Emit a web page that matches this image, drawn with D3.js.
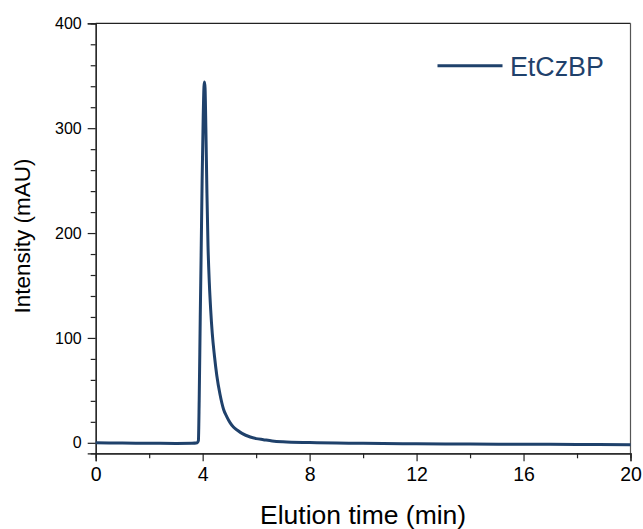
<!DOCTYPE html>
<html>
<head>
<meta charset="utf-8">
<script src="https://cdn.jsdelivr.net/npm/d3@7"></script>
<style>
  body { margin: 0; background: #fff; }
  text { font-family: "Liberation Sans", Arial, sans-serif; }
</style>
</head>
<body>
<svg id="chart" width="643" height="529"></svg>
<script>
// elution trace
var times = [0, 1, 2, 3, 3.6, 3.8, 3.84, 3.87, 3.91, 3.94, 3.98, 4.02, 4.05, 4.07, 4.09, 4.12, 4.16, 4.2,
             4.25, 4.3, 4.36, 4.44, 4.53, 4.65, 4.78, 4.9, 5.03, 5.15, 5.3, 5.47, 5.78, 6.0, 6.27, 6.6, 7, 8,
             10, 12, 14, 16, 18, 20];
var intensity = [0, -0.2, -0.4, -0.6, -0.5, 0, 2, 40, 120, 174, 250, 310, 340, 344, 338, 300, 238, 188,
                 152, 127, 104, 83, 64, 46, 32, 25, 19, 15, 12, 9, 5.5, 4, 3, 1.8, 1, 0.2,
                 -0.5, -1, -1.2, -1.4, -1.5, -1.8];
var xTicks = [0, 4, 8, 12, 16, 20];
var yTicks = [0, 100, 200, 300, 400];
var seriesName = "EtCzBP";

var svg = d3.select("svg#chart");
var lineColor = "#1f416b";

var x = d3.scaleLinear().domain([0, 20]).range([95.7, 630.5]);
var y = d3.scaleLinear().domain([-10, 400]).range([453.3, 23.3]);

//frame (top and right lines)
svg.append("line").attr("x1", x(0)).attr("x2", x(20)).attr("y1", y(400)).attr("y2", y(400))
  .attr("stroke", "#222").attr("stroke-width", 1.2);
svg.append("line").attr("x1", x(20)).attr("x2", x(20)).attr("y1", y(400)).attr("y2", y(-10))
  .attr("stroke", "#555").attr("stroke-width", 1.2);

//x axis, minor then major
var xMinor = svg.append("g").attr("transform", "translate(0," + y(-10) + ")")
  .call(d3.axisBottom(x).tickValues(d3.range(2, 20, 4)).tickSize(5).tickFormat(""));
var xAxis = svg.append("g").attr("transform", "translate(0," + y(-10) + ")")
  .call(d3.axisBottom(x).tickValues(xTicks).tickSize(8).tickPadding(6).tickFormat(d3.format("d")));
xAxis.selectAll("text").style("font-size", "19.5px").attr("fill", "#000");

//y axis
var yMinor = svg.append("g").attr("transform", "translate(" + x(0) + ",0)")
  .call(d3.axisLeft(y).tickValues(d3.range(20, 400, 20).filter(function(d) { return d % 100 != 0; }))
    .tickSize(5).tickFormat(""));
var yAxis = svg.append("g").attr("transform", "translate(" + x(0) + ",0)")
  .call(d3.axisLeft(y).tickValues(yTicks).tickSize(8).tickPadding(6).tickFormat(d3.format("d")));
yAxis.selectAll("text").style("font-size", "16px").attr("fill", "#000");

svg.selectAll(".domain").attr("stroke", "#222").attr("stroke-width", 1.2);
svg.selectAll(".tick line").attr("stroke", "#222").attr("stroke-width", 1.2);

//the trace
var pts = times.map(function(t, i) { return [t, intensity[i]]; });
var line = d3.line()
  .x(function(d) { return x(d[0]); })
  .y(function(d) { return y(d[1]); })
  .curve(d3.curveMonotoneX);

svg.append("path")
  .datum(pts)
  .attr("d", line)
  .attr("fill", "none")
  .attr("stroke", lineColor)
  .attr("stroke-width", 3)
  .attr("stroke-linejoin", "round");

//axis titles
svg.append("text")
  .attr("x", (x(0) + x(20)) / 2)
  .attr("y", 524)
  .attr("text-anchor", "middle")
  .style("font-size", "26.5px")
  .text("Elution time (min)");

svg.append("text")
  .attr("transform", "translate(30," + 236 + ") rotate(-90)")
  .attr("text-anchor", "middle")
  .style("font-size", "22.5px")
  .text("Intensity (mAU)");

//legend
svg.append("line")
  .attr("x1", 437.5).attr("x2", 502.5).attr("y1", 65.7).attr("y2", 65.7)
  .attr("stroke", lineColor).attr("stroke-width", 3);
svg.append("text")
  .attr("x", 510)
  .attr("y", 76)
  .attr("fill", lineColor)
  .style("font-size", "26.8px")
  .text(seriesName);
</script>
</body>
</html>
